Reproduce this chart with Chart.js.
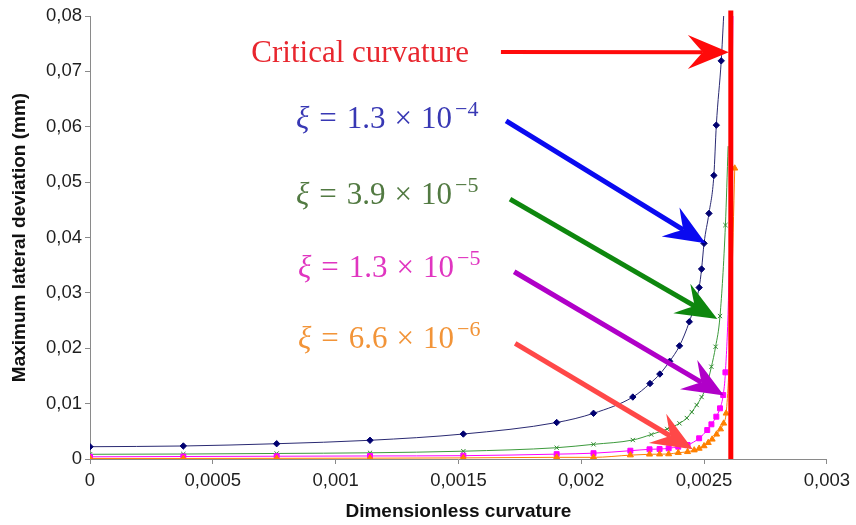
<!DOCTYPE html>
<html>
<head>
<meta charset="utf-8">
<script src="https://cdn.jsdelivr.net/npm/chart.js@4.4.1/dist/chart.umd.min.js"></script>
<style>
  html, body { margin: 0; padding: 0; background: #fff; }
  #wrap { width: 856px; height: 525px; }
</style>
</head>
<body>
<div id="wrap"><canvas id="myChart" width="856" height="525"></canvas></div>
<script>
// Datos: curvatura adimensional (x) y desviacion lateral maxima en mm (y)
var xTickLabels = ['0', '0,0005', '0,001', '0,0015', '0,002', '0,0025', '0,003'];
var yTickLabels = ['0', '0,01', '0,02', '0,03', '0,04', '0,05', '0,06', '0,07', '0,08'];

var criticalCurvature = 0.002609;

// xi = 1.3e-4 (azul)
var curv1 = [0, 0.00038, 0.00076, 0.00114, 0.00152, 0.0019, 0.00205, 0.00221, 0.00228, 0.00232, 0.00236,
  0.0024, 0.00244, 0.00248, 0.00249, 0.0025, 0.00252, 0.00254, 0.00255, 0.00257, 0.00258];
var dev1 = [0.00222, 0.00235, 0.00276, 0.00338, 0.00451, 0.00659, 0.00825, 0.01119, 0.01363, 0.01534, 0.01764,
  0.02043, 0.02478, 0.03096, 0.0343, 0.03894, 0.04435, 0.05121, 0.06029, 0.0719, 0.0801];

// xi = 3.9e-5 (verde)
var curv2 = [0, 0.00038, 0.00076, 0.00114, 0.00152, 0.0019, 0.00205, 0.00221, 0.002285, 0.00235, 0.0024,
  0.00243, 0.00245, 0.00247, 0.00249, 0.00251, 0.00253, 0.002547, 0.002565, 0.002587, 0.002598];
var dev2 = [0.00085, 0.0009, 0.001, 0.00112, 0.00141, 0.00204, 0.00265, 0.00343, 0.00442, 0.00542, 0.00644,
  0.0074, 0.00848, 0.00975, 0.01119, 0.01318, 0.01666, 0.02027, 0.02581, 0.04224, 0.0565];

// xi = 1.3e-5 (magenta)
var curv3 = [0, 0.00038, 0.00076, 0.00114, 0.00152, 0.0019, 0.00205, 0.0022, 0.002278, 0.002319, 0.002356,
  0.002395, 0.002433, 0.00248, 0.002513, 0.00253, 0.00255, 0.002565, 0.002578, 0.002587, 0.0026, 0.002612, 0.002618];
var dev3 = [0.0004, 0.00045, 0.0005, 0.00055, 0.0006, 0.00088, 0.00105, 0.0015, 0.00175, 0.0018, 0.00193,
  0.00222, 0.00253, 0.00374, 0.00523, 0.00626, 0.00764, 0.00915, 0.01155, 0.01565, 0.03, 0.06, 0.081];

// xi = 6.6e-6 (naranja)
var curv4 = [0, 0.00038, 0.00076, 0.00114, 0.00152, 0.0019, 0.00205, 0.0022, 0.002278, 0.002319, 0.002356,
  0.002395, 0.002433, 0.00246, 0.00248, 0.0025, 0.002517, 0.002533, 0.002551, 0.002567, 0.00258, 0.00259,
  0.0026, 0.002612, 0.002625];
var dev4 = [0.0001, 0.0001, 0.00012, 0.00015, 0.0002, 0.0003, 0.0003, 0.0007, 0.00085, 0.00087, 0.0009,
  0.00114, 0.0013, 0.0016, 0.0019, 0.00235, 0.00294, 0.00355, 0.00446, 0.0054, 0.00644, 0.00825,
  0.015, 0.03, 0.0525];

var xiMantissa = ['1.3', '3.9', '1.3', '6.6'];
var xiExponent = ['\u22124', '\u22125', '\u22125', '\u22126'];

function toPoints(xs, ys) {
  return xs.map(function (v, i) { return { x: v, y: ys[i] }; });
}

// oculta los marcadores de los ultimos n puntos
function hideLast(n) {
  return function (c) { return c.dataIndex >= c.dataset.data.length - n ? 0 : c.dataset._r; };
}

// flechas y textos (coordenadas en unidades de datos)
var arrows = [
  { from: [0.001673, 0.07352], to: [0.002601, 0.07347], color: '#ff0a0a', width: 4 },
  { from: [0.001694, 0.06106], to: [0.002506, 0.03894], color: '#0a0af0', width: 5 },
  { from: [0.00171, 0.04693], to: [0.002554, 0.02527], color: '#0e870e', width: 5 },
  { from: [0.001727, 0.03381], to: [0.002581, 0.01146], color: '#b000c8', width: 5 },
  { from: [0.001731, 0.02088], to: [0.002454, 0.00175], color: '#ff4848', width: 5 }
];
var xiPos = [[0.000839, 0.05975], [0.000839, 0.04603], [0.000847, 0.03285], [0.000847, 0.02004]];
var xiColors = ['#3838b4', '#527a42', '#e035c0', '#f29438'];

function drawArrow(ctx, x0, y0, x1, y1, color, width) {
  var ang = Math.atan2(y1 - y0, x1 - x0);
  var L = 41, W = 17, N = 26;
  ctx.save();
  ctx.strokeStyle = color;
  ctx.fillStyle = color;
  ctx.lineWidth = width;
  ctx.beginPath();
  ctx.moveTo(x0, y0);
  ctx.lineTo(x1 - N * Math.cos(ang), y1 - N * Math.sin(ang));
  ctx.stroke();
  ctx.translate(x1, y1);
  ctx.rotate(ang);
  ctx.beginPath();
  ctx.moveTo(0, 0);
  ctx.lineTo(-L, -W);
  ctx.quadraticCurveTo(-N - 4, -4, -N, 0);
  ctx.quadraticCurveTo(-N - 4, 4, -L, W);
  ctx.closePath();
  ctx.fill();
  ctx.restore();
}

var annotations = {
  id: 'annotations',
  afterDatasetsDraw: function (chart) {
    var ctx = chart.ctx, sx = chart.scales.x, sy = chart.scales.y;
    arrows.forEach(function (a) {
      drawArrow(ctx, sx.getPixelForValue(a.from[0]), sy.getPixelForValue(a.from[1]),
        sx.getPixelForValue(a.to[0]), sy.getPixelForValue(a.to[1]), a.color, a.width);
    });
    ctx.save();
    ctx.textBaseline = 'alphabetic';
    ctx.textAlign = 'left';
    ctx.font = '31px "Liberation Serif"';
    ctx.fillStyle = '#e8262e';
    ctx.fillText('Critical curvature', sx.getPixelForValue(0.000657), sy.getPixelForValue(0.07166));
    xiPos.forEach(function (p, i) {
      var x = sx.getPixelForValue(p[0]), y = sy.getPixelForValue(p[1]);
      ctx.fillStyle = xiColors[i];
      ctx.font = 'italic 31px "Liberation Serif"';
      ctx.fillText('\u03be', x, y);
      x += ctx.measureText('\u03be').width + 10;
      ctx.font = '31px "Liberation Serif"';
      ctx.fillText('=', x, y);
      x += ctx.measureText('=').width + 10;
      ctx.fillText(xiMantissa[i], x, y);
      x += ctx.measureText(xiMantissa[i]).width + 9;
      ctx.fillText('\u00d7', x, y);
      x += ctx.measureText('\u00d7').width + 9;
      ctx.fillText('10', x, y);
      x += ctx.measureText('10').width + 3;
      ctx.font = '22px "Liberation Serif"';
      ctx.fillText(xiExponent[i], x, y - 12);
    });
    ctx.restore();
  }
};

var ctx2 = document.getElementById('myChart').getContext('2d');

var chart = new Chart(ctx2, {
  type: 'scatter',
  data: {
    datasets: [
      {
        label: 'Critical curvature',
        data: [{ x: criticalCurvature, y: 0 }, { x: criticalCurvature, y: 0.081 }],
        showLine: true, borderColor: '#ff0000', borderWidth: 5, pointRadius: 0,
        clip: 10, order: 0
      },
      {
        label: 'xi = 1.3e-4',
        data: toPoints(curv1, dev1),
        showLine: true, borderColor: '#2a2a72', borderWidth: 1,
        backgroundColor: '#000070', pointBorderColor: '#000070',
        pointStyle: 'rectRot', _r: 3.2, pointRadius: hideLast(1), pointBorderWidth: 1,
        cubicInterpolationMode: 'monotone', order: 4
      },
      {
        label: 'xi = 3.9e-5',
        data: toPoints(curv2, dev2),
        showLine: true, borderColor: '#3c9a3c', borderWidth: 1,
        backgroundColor: '#2e8a2e', pointBorderColor: '#2e8a2e',
        pointStyle: 'crossRot', _r: 3, pointRadius: hideLast(1), pointBorderWidth: 1,
        cubicInterpolationMode: 'monotone', order: 3
      },
      {
        label: 'xi = 1.3e-5',
        data: toPoints(curv3, dev3),
        showLine: true, borderColor: '#ff00ff', borderWidth: 1,
        backgroundColor: '#ff00ff', pointBorderColor: '#ff00ff',
        pointStyle: 'rect', _r: 3.5, pointRadius: hideLast(3), pointBorderWidth: 1,
        cubicInterpolationMode: 'monotone', order: 2
      },
      {
        label: 'xi = 6.6e-6',
        data: toPoints(curv4, dev4),
        showLine: true, borderColor: '#ff8000', borderWidth: 1,
        backgroundColor: '#ff8000', pointBorderColor: '#ff8000',
        pointStyle: 'triangle', _r: 3.5,
        pointRadius: function (c) { var i = c.dataIndex, n = c.dataset.data.length; return (i === n - 2 || i === n - 3) ? 0 : 3.5; },
        pointBorderWidth: 1,
        cubicInterpolationMode: 'monotone', order: 1
      }
    ]
  },
  options: {
    responsive: false,
    animation: false,
    layout: { padding: { top: 16, right: 22, left: 0, bottom: 0 } },
    plugins: { legend: { display: false }, tooltip: { enabled: false } },
    scales: {
      x: {
        type: 'linear', min: 0, max: 0.003,
        afterFit: function (s) { s.height = 66; },
        border: { display: true, color: '#8a8a8a', width: 1 },
        grid: { drawOnChartArea: false, drawTicks: true, tickLength: 5, color: '#8a8a8a' },
        ticks: {
          stepSize: 0.0005, maxRotation: 0, autoSkip: false, padding: 6, color: '#1e1e1e',
          font: { family: '"Liberation Sans", Arial, sans-serif', size: 18.5 },
          callback: function (v, i) { return xTickLabels[i]; }
        },
        title: {
          display: true, text: 'Dimensionless curvature', color: '#111',
          font: { family: '"Liberation Sans", Arial, sans-serif', size: 19, weight: 'bold' },
          padding: { top: 0, bottom: 2 }
        }
      },
      y: {
        type: 'linear', min: 0, max: 0.08,
        afterFit: function (s) { s.width = 90; },
        border: { display: true, color: '#8a8a8a', width: 1 },
        grid: { drawOnChartArea: false, drawTicks: true, tickLength: 5, color: '#8a8a8a' },
        ticks: {
          stepSize: 0.01, padding: 3, color: '#1e1e1e',
          font: { family: '"Liberation Sans", Arial, sans-serif', size: 18.5 },
          callback: function (v, i) { return yTickLabels[i]; }
        },
        title: {
          display: true, text: 'Maximum lateral deviation (mm)', color: '#111',
          font: { family: '"Liberation Sans", Arial, sans-serif', size: 19, weight: 'bold' },
          padding: { top: 8, bottom: 0 }
        }
      }
    }
  },
  plugins: [annotations]
});
</script>
</body>
</html>
